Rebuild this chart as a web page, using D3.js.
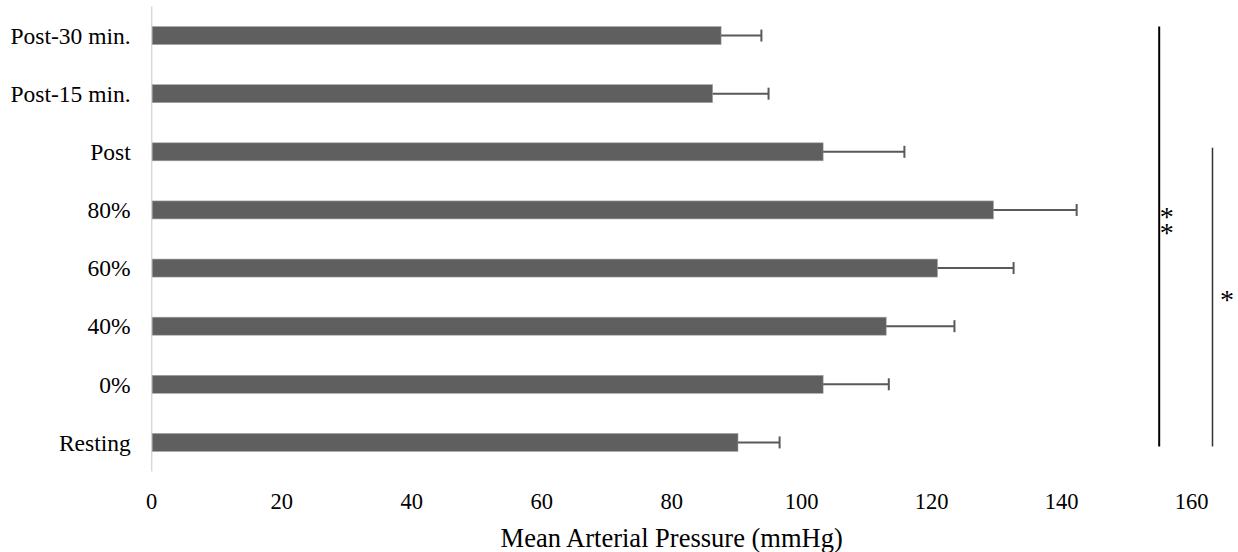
<!DOCTYPE html>
<html>
<head>
<meta charset="utf-8">
<script src="https://cdn.jsdelivr.net/npm/d3@7"></script>
<style>
  html, body { margin: 0; padding: 0; background: #fff; }
  svg { display: block; }
  text { font-family: "Liberation Serif", "Times New Roman", serif; fill: #000; }
</style>
</head>
<body>
<svg id="chart" width="1238" height="552"></svg>
<script>
// ---- data ----
const categories = ["Post-30 min.", "Post-15 min.", "Post", "80%", "60%", "40%", "0%", "Resting"];
const means = [87.6, 86.3, 103.3, 129.5, 120.9, 113.0, 103.3, 90.2];
const errors = [6.2, 8.6, 12.5, 12.8, 11.7, 10.5, 10.1, 6.4];
const xTicks = [0, 20, 40, 60, 80, 100, 120, 140, 160];
const xTitle = "Mean Arterial Pressure (mmHg)";
// significance brackets: x value, from category (top), to category (bottom), label
const sigBrackets = [
  { x: 155.0, from: "Post-30 min.", to: "Resting", label: "**", labelAt: "80%" },
  { x: 163.2, from: "Post", to: "Resting", label: "*", labelAt: "40%" }
];

// ---- layout ----
const svg = d3.select("#chart");
const x = d3.scaleLinear().domain([0, 160]).range([151.7, 1191.7]);
const y = d3.scaleBand().domain(categories).range([6.5, 471.5])
  .paddingInner(0.69).paddingOuter(0.345);

// y axis line
svg.append("line")
  .attr("x1", x(0)).attr("x2", x(0))
  .attr("y1", y.range()[0]).attr("y2", y.range()[1])
  .attr("stroke", "#d9d9d9").attr("stroke-width", 1.5);

// category labels
svg.append("g").selectAll("text").data(categories).join("text")
  .attr("x", x(0) - 21)
  .attr("y", d => y(d) + y.bandwidth() / 2)
  .attr("dy", "0.35em")
  .attr("text-anchor", "end")
  .attr("font-size", 23.5)
  .text(d => d);

// bars
svg.append("g").selectAll("rect").data(categories).join("rect")
  .attr("x", x(0) + 0.5)
  .attr("y", d => y(d))
  .attr("width", (d, i) => x(means[i]) - x(0) - 0.5)
  .attr("height", y.bandwidth())
  .attr("fill", "#5f5f5f")
  .attr("stroke", "#a6a6a6").attr("stroke-width", 0.6);

// error bars
const eg = svg.append("g").attr("stroke", "#595959").attr("stroke-width", 2);
categories.forEach((c, i) => {
  const cy = y(c) + y.bandwidth() / 2;
  eg.append("line")
    .attr("x1", x(means[i])).attr("x2", x(means[i] + errors[i]))
    .attr("y1", cy).attr("y2", cy);
  eg.append("line")
    .attr("x1", x(means[i] + errors[i])).attr("x2", x(means[i] + errors[i]))
    .attr("y1", cy - 6).attr("y2", cy + 6);
});

// x tick labels
svg.append("g").selectAll("text").data(xTicks).join("text")
  .attr("x", d => x(d))
  .attr("y", 509)
  .attr("text-anchor", "middle")
  .attr("font-size", 22.5)
  .text(d => d);

// x title
svg.append("text")
  .attr("x", x(80))
  .attr("y", 546.5)
  .attr("text-anchor", "middle")
  .attr("font-size", 26.5)
  .text(xTitle);

// significance brackets
sigBrackets.forEach((b, k) => {
  const top = k === 0 ? y(b.from) : y(b.from) + y.bandwidth() / 2 - 4;
  const bottom = y(b.to) + y.bandwidth() / 2 + 4;
  svg.append("line")
    .attr("x1", x(b.x)).attr("x2", x(b.x))
    .attr("y1", top).attr("y2", bottom)
    .attr("stroke", k === 0 ? "#000" : "#333")
    .attr("stroke-width", k === 0 ? 2 : 1.5);
  const ly = y(b.labelAt) + y.bandwidth() / 2;
  const cx = x(b.x) + (k === 0 ? 7.5 : 14.5);
  if (b.label.length === 2) {
    // stacked vertically as one text run
    svg.append("text")
      .attr("x", cx)
      .attr("y", ly + 6.8)
      .attr("text-anchor", "middle")
      .attr("font-size", 28)
      .style("writing-mode", "vertical-rl")
      .style("text-orientation", "upright")
      .style("letter-spacing", "-15.5px")
      .text(b.label);
  } else {
    svg.append("text")
      .attr("x", cx)
      .attr("y", ly - 17.1)
      .attr("text-anchor", "middle")
      .attr("font-size", 28)
      .text(b.label);
  }
});
</script>
</body>
</html>
